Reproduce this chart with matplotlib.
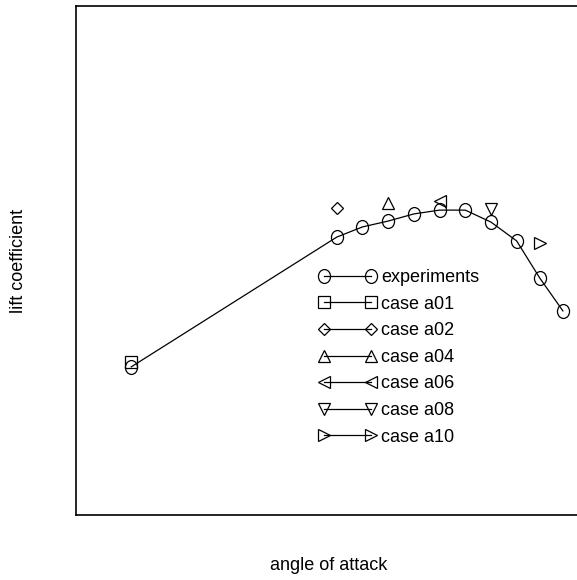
import matplotlib
matplotlib.use("Agg")
import matplotlib.pyplot as plt
from matplotlib.path import Path
from matplotlib.transforms import Affine2D

plt.rcParams['font.family'] = ['Liberation Sans', 'DejaVu Sans']

# experimental lift curve
alpha_exp = [0, 8, 9, 10, 11, 12, 13, 14, 15, 15.9, 16.8]
cl_exp = [0.582, 1.092, 1.132, 1.155, 1.183, 1.198, 1.198, 1.151, 1.077, 0.931, 0.802]

# simulation cases (one point each)
case_names = ['case a01', 'case a02', 'case a04', 'case a06', 'case a08', 'case a10']
case_alpha = [0, 8, 10, 12, 14, 15.9]
case_cl = [0.601, 1.206, 1.226, 1.234, 1.202, 1.069]
case_markers = ['s', 'D', '^', '<', 'v', '>']
case_sizes = [8, 6.5, 9, 9, 9, 9]

ellipse = Path.unit_circle().transformed(Affine2D().scale(1, 1.15))

fig = plt.figure(figsize=(5.77, 5.80), dpi=100)
ax = fig.add_axes([76/577, 65/580, 0.875, 509/580])

ax.plot(alpha_exp, cl_exp, color='black', lw=0.9, marker=ellipse, ms=10,
        mfc='none', mec='black', mew=0.9, label='experiments')
for name, a, c, m, s in zip(case_names, case_alpha, case_cl, case_markers, case_sizes):
    ax.plot([a], [c], color='black', lw=0.9, marker=m, ms=s,
            mfc='none', mec='black', mew=0.9, label=name)

ax.set_xlim(-2.15, 17.5)
ax.set_ylim(0, 2)
ax.set_xticks([])
ax.set_yticks([])
for sp in ax.spines.values():
    sp.set_linewidth(1.2)

ax.set_xlabel('angle of attack', fontsize=13, labelpad=30)
ax.set_ylabel('lift coefficient', fontsize=13, labelpad=35)

leg = ax.legend(loc='upper left', bbox_to_anchor=(0.481, 0.483), frameon=False,
                numpoints=2, fontsize=13, handlelength=3.2, handletextpad=0.25,
                labelspacing=0.53, borderpad=0, borderaxespad=0)

fig.savefig('out.png', dpi=100)
